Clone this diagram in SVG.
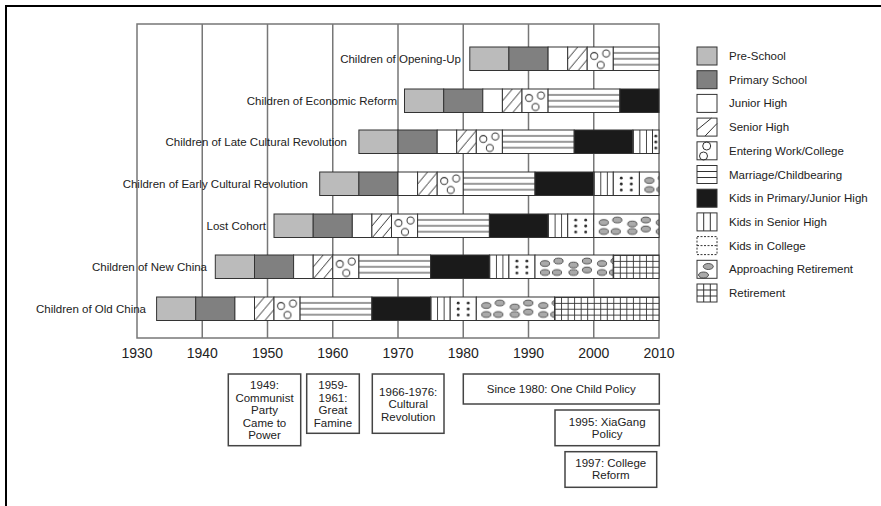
<svg xmlns="http://www.w3.org/2000/svg" width="881" height="506" viewBox="0 0 881 506">
<style>
  .grid{stroke:#777;stroke-width:1.5;fill:none}
  .seg{stroke:#333;stroke-width:1}
  .pre{fill:#bbb}
  .pri{fill:#808080}
  .jr{fill:#fff}
  .sr{fill:url(#p-sr)}
  .ent{fill:url(#p-ent)}
  .mar{fill:url(#p-mar)}
  .kp{fill:#1a1a1a}
  .ks{fill:url(#p-ks)}
  .kc{fill:url(#p-kc)}
  .ap{fill:url(#p-ap)}
  .ret{fill:url(#p-ret)}
  .ln{stroke:#333;stroke-width:1;fill:none}
  text{font-family:"Liberation Sans",Arial,Helvetica,sans-serif;font-size:11.5px;fill:#222}
  .yr{font-size:14px;text-anchor:middle}
  .lbl{text-anchor:end}
  .box{fill:#fff;stroke:#444;stroke-width:1.5}
  .bt{text-anchor:middle}
  .ell{fill:#aaa;stroke:#333;stroke-width:0.8}
</style>
<defs>
  <pattern id="p-sr" patternUnits="userSpaceOnUse" width="10" height="12">
    <rect width="10" height="12" fill="#fff"/>
    <path d="M-1,13.2 L11,-1.2" stroke="#333" stroke-width="1"/>
  </pattern>
  <pattern id="p-mar" patternUnits="userSpaceOnUse" width="10" height="23.5">
    <rect width="10" height="23.5" fill="#fff"/>
    <rect y="5.4" width="10" height="1" fill="#333"/>
    <rect y="11.3" width="10" height="1" fill="#333"/>
    <rect y="17.2" width="10" height="1" fill="#333"/>
  </pattern>
  <pattern id="p-ks" patternUnits="userSpaceOnUse" width="6.525" height="23.5">
    <rect width="6.525" height="23.5" fill="#fff"/>
    <rect width="0.9" height="23.5" fill="#333"/>
  </pattern>
  <pattern id="p-kc" patternUnits="userSpaceOnUse" width="26.1" height="23.5">
    <rect width="26.1" height="23.5" fill="#fff"/>
    <g fill="#222">
      <circle cx="8" cy="6" r="1.4"/><circle cx="18" cy="6" r="1.4"/>
      <circle cx="8" cy="12" r="1.4"/><circle cx="18" cy="12" r="1.4"/>
      <circle cx="8" cy="18" r="1.4"/><circle cx="18" cy="18" r="1.4"/>
    </g>
  </pattern>
  <pattern id="p-ent" patternUnits="userSpaceOnUse" width="26.1" height="23.5">
    <rect width="26.1" height="23.5" fill="#fff"/>
    <g fill="none" stroke="#333" stroke-width="1">
      <circle cx="7" cy="9" r="3.5"/><circle cx="19" cy="6.5" r="3.5"/><circle cx="13.5" cy="18" r="3.5"/>
    </g>
  </pattern>
  <pattern id="p-ap" patternUnits="userSpaceOnUse" width="57" height="23.5">
    <rect width="57" height="23.5" fill="#fff"/>
    <g class="ell">
      <ellipse cx="10" cy="8.5" rx="4.6" ry="2.9"/><ellipse cx="23.5" cy="6" rx="4.6" ry="2.9"/>
      <ellipse cx="10" cy="17.5" rx="4.6" ry="2.9"/><ellipse cx="22" cy="17.5" rx="4.6" ry="2.9"/>
      <ellipse cx="38.5" cy="10" rx="4.6" ry="2.9"/><ellipse cx="38.5" cy="17.5" rx="4.6" ry="2.9"/>
      <ellipse cx="52" cy="6" rx="4.6" ry="2.9"/><ellipse cx="52" cy="15" rx="4.6" ry="2.9"/>
    </g>
  </pattern>
  <pattern id="p-ret" patternUnits="userSpaceOnUse" width="6.525" height="5.875">
    <rect width="6.525" height="5.875" fill="#fff"/>
    <rect width="6.525" height="0.9" fill="#333"/>
    <rect width="0.9" height="5.875" fill="#333"/>
  </pattern>
</defs>

<rect width="881" height="506" fill="#fff"/>
<path d="M6,506 V6 H881" fill="none" stroke="#000" stroke-width="2"/>

<g id="grid" class="grid">
  <rect x="137" y="24" width="522" height="314"/>
  <path d="M202.25,24V338 M267.5,24V338 M332.75,24V338 M398,24V338 M463.25,24V338 M528.5,24V338 M593.75,24V338"/>
</g>
<g id="years">
  <text class="yr" x="137" y="358">1930</text>
  <text class="yr" x="202.25" y="358">1940</text>
  <text class="yr" x="267.5" y="358">1950</text>
  <text class="yr" x="332.75" y="358">1960</text>
  <text class="yr" x="398" y="358">1970</text>
  <text class="yr" x="463.25" y="358">1980</text>
  <text class="yr" x="528.5" y="358">1990</text>
  <text class="yr" x="593.75" y="358">2000</text>
  <text class="yr" x="659" y="358">2010</text>
</g>

<g id="row-opening-up">
  <text class="lbl" x="461" y="62.5">Children of Opening-Up</text>
  <rect class="seg pre" transform="translate(469.8,47)" width="39.1" height="23.5"/>
  <rect class="seg pri" transform="translate(508.9,47)" width="39.2" height="23.5"/>
  <rect class="seg jr" transform="translate(548.1,47)" width="19.6" height="23.5"/>
  <rect class="seg sr" transform="translate(567.7,47)" width="19.5" height="23.5"/>
  <rect class="seg ent" transform="translate(587.2,47)" width="26.1" height="23.5"/>
  <rect class="seg mar" transform="translate(613.3,47)" width="45.7" height="23.5"/>
</g>
<g id="row-economic-reform">
  <text class="lbl" x="397" y="104.5">Children of Economic Reform</text>
  <rect class="seg pre" transform="translate(404.5,89)" width="39.2" height="23.5"/>
  <rect class="seg pri" transform="translate(443.7,89)" width="39.1" height="23.5"/>
  <rect class="seg jr" transform="translate(482.8,89)" width="19.6" height="23.5"/>
  <rect class="seg sr" transform="translate(502.4,89)" width="19.6" height="23.5"/>
  <rect class="seg ent" transform="translate(522,89)" width="26.1" height="23.5"/>
  <rect class="seg mar" transform="translate(548.1,89)" width="71.8" height="23.5"/>
  <rect class="seg kp" transform="translate(619.9,89)" width="39.1" height="23.5"/>
</g>
<g id="row-late-cr">
  <text class="lbl" x="347" y="145.5">Children of Late Cultural Revolution</text>
  <rect class="seg pre" transform="translate(358.9,130)" width="39.1" height="23.5"/>
  <rect class="seg pri" transform="translate(398,130)" width="39.2" height="23.5"/>
  <rect class="seg jr" transform="translate(437.2,130)" width="19.5" height="23.5"/>
  <rect class="seg sr" transform="translate(456.7,130)" width="19.6" height="23.5"/>
  <rect class="seg ent" transform="translate(476.3,130)" width="26.1" height="23.5"/>
  <rect class="seg mar" transform="translate(502.4,130)" width="71.8" height="23.5"/>
  <rect class="seg kp" transform="translate(574.2,130)" width="58.7" height="23.5"/>
  <rect class="seg ks" transform="translate(632.9,130)" width="19.6" height="23.5"/>
  <rect class="seg kc" transform="translate(647.8,130)" x="4.7" width="6.5" height="23.5"/>
</g>
<g id="row-early-cr">
  <text class="lbl" x="308" y="187.5">Children of Early Cultural Revolution</text>
  <rect class="seg pre" transform="translate(319.7,172)" width="39.2" height="23.5"/>
  <rect class="seg pri" transform="translate(358.9,172)" width="39.1" height="23.5"/>
  <rect class="seg jr" transform="translate(398,172)" width="19.6" height="23.5"/>
  <rect class="seg sr" transform="translate(417.6,172)" width="19.6" height="23.5"/>
  <rect class="seg ent" transform="translate(437.2,172)" width="26.1" height="23.5"/>
  <rect class="seg mar" transform="translate(463.3,172)" width="71.7" height="23.5"/>
  <rect class="seg kp" transform="translate(535,172)" width="58.8" height="23.5"/>
  <rect class="seg ks" transform="translate(593.8,172)" width="19.5" height="23.5"/>
  <rect class="seg kc" transform="translate(613.3,172)" width="26.1" height="23.5"/>
  <rect class="seg ap" transform="translate(639.4,172)" width="19.6" height="23.5"/>
</g>
<g id="row-lost-cohort">
  <text class="lbl" x="266" y="229.5">Lost Cohort</text>
  <rect class="seg pre" transform="translate(274,214)" width="39.2" height="23.5"/>
  <rect class="seg pri" transform="translate(313.2,214)" width="39.1" height="23.5"/>
  <rect class="seg jr" transform="translate(352.3,214)" width="19.6" height="23.5"/>
  <rect class="seg sr" transform="translate(371.9,214)" width="19.6" height="23.5"/>
  <rect class="seg ent" transform="translate(391.5,214)" width="26.1" height="23.5"/>
  <rect class="seg mar" transform="translate(417.6,214)" width="71.8" height="23.5"/>
  <rect class="seg kp" transform="translate(489.4,214)" width="58.7" height="23.5"/>
  <rect class="seg ks" transform="translate(548.1,214)" width="19.6" height="23.5"/>
  <rect class="seg kc" transform="translate(567.7,214)" width="26.1" height="23.5"/>
  <rect class="seg ap" transform="translate(593.8,214)" width="65.2" height="23.5"/>
</g>
<g id="row-new-china">
  <text class="lbl" x="207" y="270.5">Children of New China</text>
  <rect class="seg pre" transform="translate(215.3,255)" width="39.2" height="23.5"/>
  <rect class="seg pri" transform="translate(254.5,255)" width="39.1" height="23.5"/>
  <rect class="seg jr" transform="translate(293.6,255)" width="19.6" height="23.5"/>
  <rect class="seg sr" transform="translate(313.2,255)" width="19.6" height="23.5"/>
  <rect class="seg ent" transform="translate(332.8,255)" width="26.1" height="23.5"/>
  <rect class="seg mar" transform="translate(358.9,255)" width="71.7" height="23.5"/>
  <rect class="seg kp" transform="translate(430.6,255)" width="58.8" height="23.5"/>
  <rect class="seg ks" transform="translate(489.4,255)" width="19.5" height="23.5"/>
  <rect class="seg kc" transform="translate(508.9,255)" width="26.1" height="23.5"/>
  <rect class="seg ap" transform="translate(535,255)" width="78.3" height="23.5"/>
  <rect class="seg ret" transform="translate(613.3,255)" width="45.7" height="23.5"/>
</g>
<g id="row-old-china">
  <text class="lbl" x="146" y="312.5">Children of Old China</text>
  <rect class="seg pre" transform="translate(156.6,297)" width="39.1" height="23.5"/>
  <rect class="seg pri" transform="translate(195.7,297)" width="39.2" height="23.5"/>
  <rect class="seg jr" transform="translate(234.9,297)" width="19.6" height="23.5"/>
  <rect class="seg sr" transform="translate(254.5,297)" width="19.5" height="23.5"/>
  <rect class="seg ent" transform="translate(274,297)" width="26.1" height="23.5"/>
  <rect class="seg mar" transform="translate(300.1,297)" width="71.8" height="23.5"/>
  <rect class="seg kp" transform="translate(371.9,297)" width="58.7" height="23.5"/>
  <rect class="seg ks" transform="translate(430.6,297)" width="19.6" height="23.5"/>
  <rect class="seg kc" transform="translate(450.2,297)" width="26.1" height="23.5"/>
  <rect class="seg ap" transform="translate(476.3,297)" width="78.3" height="23.5"/>
  <rect class="seg ret" transform="translate(554.6,297)" width="104.4" height="23.5"/>
</g>

<g id="legend">
  <g id="lg-pre"><rect class="seg pre" x="697" y="47" width="20" height="18"/><text x="729" y="60">Pre-School</text></g>
  <g id="lg-pri"><rect class="seg pri" x="697" y="70.7" width="20" height="18"/><text x="729" y="83.7">Primary School</text></g>
  <g id="lg-jr"><rect class="seg jr" x="697" y="94.4" width="20" height="18"/><text x="729" y="107.4">Junior High</text></g>
  <g id="lg-sr"><rect class="seg jr" x="697" y="118.1" width="20" height="18"/><path class="ln" d="M697,130 L711.5,118.1 M705,136.1 L717,123.5"/><text x="729" y="131.1">Senior High</text></g>
  <g id="lg-ent"><rect class="seg jr" x="697" y="141.8" width="20" height="18"/><circle class="ln" cx="706.7" cy="146" r="4"/><circle class="ln" cx="703.5" cy="156" r="4"/><text x="729" y="154.8">Entering Work/College</text></g>
  <g id="lg-mar"><rect class="seg jr" x="697" y="165.5" width="20" height="18"/><path class="ln" d="M697,171.5 H717 M697,177.5 H717"/><text x="729" y="178.5">Marriage/Childbearing</text></g>
  <g id="lg-kp"><rect class="seg kp" x="697" y="189.2" width="20" height="18"/><text x="729" y="202.2">Kids in Primary/Junior High</text></g>
  <g id="lg-ks"><rect class="seg jr" x="697" y="212.9" width="20" height="18"/><path class="ln" d="M703.7,212.9 V230.9 M710.3,212.9 V230.9"/><text x="729" y="225.9">Kids in Senior High</text></g>
  <g id="lg-kc"><rect x="697" y="236.6" width="20" height="18" fill="#fff" stroke="#333" stroke-width="1" stroke-dasharray="2,1.5"/><path class="ln" d="M697,245.6 H717" stroke-dasharray="2,1.5"/><text x="729" y="249.6">Kids in College</text></g>
  <g id="lg-ap"><rect class="seg jr" x="697" y="260.3" width="20" height="18"/><ellipse class="ell" cx="708.3" cy="266.5" rx="5" ry="3"/><ellipse class="ell" cx="703.5" cy="275" rx="5" ry="3"/><text x="729" y="273.3">Approaching Retirement</text></g>
  <g id="lg-ret"><rect class="seg jr" x="697" y="284" width="20" height="18"/><path class="ln" d="M703.7,284 V302 M710.3,284 V302 M697,290 H717 M697,296 H717"/><text x="729" y="297">Retirement</text></g>
</g>

<g id="ev-1949">
  <rect class="box" x="228.3" y="374" width="72.4" height="71.7"/>
  <text class="bt" x="264.5" y="389">1949:</text>
  <text class="bt" x="264.5" y="401.5">Communist</text>
  <text class="bt" x="264.5" y="414">Party</text>
  <text class="bt" x="264.5" y="426.5">Came to</text>
  <text class="bt" x="264.5" y="439">Power</text>
</g>
<g id="ev-famine">
  <rect class="box" x="306.7" y="374" width="52.6" height="59.3"/>
  <text class="bt" x="333" y="389">1959-</text>
  <text class="bt" x="333" y="401.5">1961:</text>
  <text class="bt" x="333" y="414">Great</text>
  <text class="bt" x="333" y="426.5">Famine</text>
</g>
<g id="ev-cr">
  <rect class="box" x="372.3" y="374" width="71.7" height="59.3"/>
  <text class="bt" x="408.2" y="395.5">1966-1976:</text>
  <text class="bt" x="408.2" y="408">Cultural</text>
  <text class="bt" x="408.2" y="420.5">Revolution</text>
</g>
<g id="ev-onechild">
  <rect class="box" x="463.3" y="374" width="196" height="30"/>
  <text class="bt" x="561.3" y="393">Since 1980: One Child Policy</text>
</g>
<g id="ev-xiagang">
  <rect class="box" x="555" y="410" width="104.3" height="35.7"/>
  <text class="bt" x="607.2" y="425.5">1995: XiaGang</text>
  <text class="bt" x="607.2" y="438">Policy</text>
</g>
<g id="ev-college">
  <rect class="box" x="565" y="451.7" width="91.7" height="35.6"/>
  <text class="bt" x="610.8" y="466.5">1997: College</text>
  <text class="bt" x="610.8" y="479">Reform</text>
</g>
</svg>
